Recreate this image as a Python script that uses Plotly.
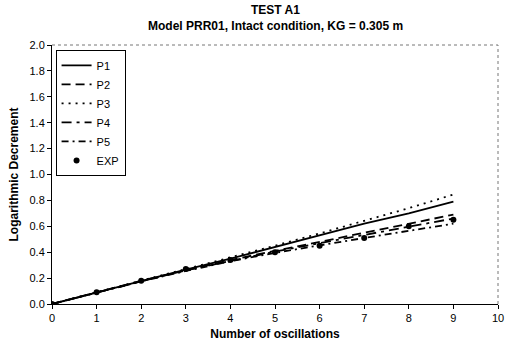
import plotly.graph_objects as go

x = [0, 1, 2, 3, 4, 5, 6, 7, 8, 9]
P1 = [0, 0.09, 0.18, 0.265, 0.35, 0.44, 0.53, 0.62, 0.70, 0.79]
P2 = [0, 0.09, 0.18, 0.26, 0.34, 0.41, 0.48, 0.55, 0.62, 0.69]
P3 = [0, 0.09, 0.18, 0.27, 0.355, 0.45, 0.545, 0.64, 0.74, 0.845]
P4 = [0, 0.09, 0.175, 0.26, 0.335, 0.405, 0.47, 0.535, 0.60, 0.66]
P5 = [0, 0.09, 0.175, 0.255, 0.33, 0.395, 0.455, 0.51, 0.565, 0.62]
EXP = [0, 0.09, 0.18, 0.27, 0.34, 0.40, 0.45, 0.51, 0.60, 0.65]

title_lines = ["TEST A1", "Model PRR01, Intact condition, KG = 0.305 m"]

series = [
    ("P1", P1, "solid"),
    ("P2", P2, "9px,5px"),
    ("P3", P3, "2px,5px"),
    ("P4", P4, "10px,5px,3px,5px"),
    ("P5", P5, "7px,4px,2px,4px"),
]

fig = go.Figure()
for name, y, dash in series:
    fig.add_trace(go.Scatter(x=x, y=y, mode="lines", name=name,
                             line=dict(color="black", width=1.8, dash=dash)))
fig.add_trace(go.Scatter(x=x, y=EXP, mode="markers", name="EXP",
                         marker=dict(color="black", size=6)))

font = "Liberation Sans"
fig.update_layout(
    width=516, height=351,
    margin=dict(l=52, r=14, t=45, b=47),
    paper_bgcolor="white", plot_bgcolor="white",
    font=dict(family=font, color="black", size=11),
    showlegend=True,
    legend=dict(x=0.008, y=0.981, xanchor="left", yanchor="top",
                bordercolor="black", borderwidth=1, bgcolor="white",
                font=dict(family=font, size=11, color="black"),
                tracegroupgap=0, itemwidth=30),
    xaxis=dict(range=[0, 10], tickmode="linear", tick0=0, dtick=1,
               showgrid=False, zeroline=False, showline=True, linecolor="black",
               linewidth=1, ticks="outside", ticklen=4, tickcolor="black",
               tickfont=dict(family=font, size=11, color="black"),
               title=dict(text="<b>Number of oscillations</b>", standoff=6,
                          font=dict(family=font, size=12, color="black"))),
    yaxis=dict(range=[0, 2.0], tickmode="linear", tick0=0, dtick=0.2,
               tickformat=".1f",
               showgrid=False, zeroline=False, showline=True, linecolor="black",
               linewidth=1, ticks="outside", ticklen=4, tickcolor="black",
               tickfont=dict(family=font, size=11, color="black"),
               title=dict(text="<b>Logarithmic Decrement</b>", standoff=8,
                          font=dict(family=font, size=12, color="black"))),
)
for txt, yy in zip(title_lines, [1.135, 1.073]):
    fig.add_annotation(text="<b>" + txt + "</b>", xref="paper", yref="paper",
                       x=0.5, y=yy, xanchor="center", yanchor="middle",
                       showarrow=False, font=dict(family=font, size=12, color="black"))
fig.add_shape(type="line", xref="paper", yref="paper", x0=0, x1=1, y0=1, y1=1,
              line=dict(color="#777777", width=1, dash="dot"))
fig.add_shape(type="line", xref="paper", yref="paper", x0=1, x1=1, y0=0, y1=1,
              line=dict(color="#777777", width=1, dash="dot"))

fig.write_html("out.html")
